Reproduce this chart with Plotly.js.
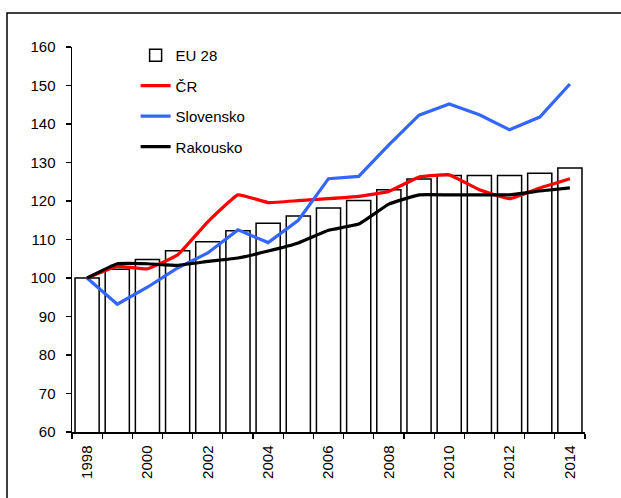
<!DOCTYPE html>
<html>
<head>
<meta charset="utf-8">
<script src="https://cdn.plot.ly/plotly-3.0.1.min.js"></script>
<style>html,body{margin:0;padding:0;background:#fff;}#chart{width:621px;height:498px;}</style>
</head>
<body>
<div id="chart"></div>
<script>
const years = [1998,1999,2000,2001,2002,2003,2004,2005,2006,2007,2008,2009,2010,2011,2012,2013,2014];
const yearLabels = ['1998','2000','2002','2004','2006','2008','2010','2012','2014'];
const labelYears = [1998,2000,2002,2004,2006,2008,2010,2012,2014];
const eu28 = [100,102.3,104.8,107.1,109.4,112.3,114.2,116.1,118.2,120.1,122.9,125.7,126.6,126.6,126.6,127.2,128.6];
const cr = [100,103.0,102.4,106.0,114.6,121.6,119.6,120.1,120.6,121.2,122.5,126.2,126.8,122.9,120.6,123.4,125.8];
const slovensko = [100,93.2,97.6,102.6,106.5,112.5,109.2,115.0,125.8,126.4,134.6,142.3,145.2,142.4,138.5,141.8,150.4];
const rakousko = [100,103.7,103.7,103.3,104.3,105.2,107.0,109.1,112.4,114.0,119.2,121.6,121.6,121.6,121.6,122.6,123.4];

const font = {family: 'Liberation Sans, Arial, sans-serif', color: '#000'};

const traces = [
  {type:'bar', x: years, y: eu28, name:'EU 28', legendgroup:'a',
   marker:{color:'#fff', line:{color:'#000', width:1.5}}},
  {type:'scatter', mode:'lines', x: years, y: cr, name:'ČR', legendgroup:'b',
   line:{color:'#ff0000', width:3.2, shape:'spline', smoothing:0.3}},
  {type:'scatter', mode:'lines', x: years, y: slovensko, name:'Slovensko', legendgroup:'c',
   line:{color:'#3366ff', width:3.2}},
  {type:'scatter', mode:'lines', x: years, y: rakousko, name:'Rakousko', legendgroup:'d',
   line:{color:'#000', width:3.2, shape:'spline', smoothing:0.3}}
];

const layout = {
  width:621, height:498,
  margin:{l:72, r:36, t:47, b:66},
  paper_bgcolor:'#fff', plot_bgcolor:'#fff',
  font: Object.assign({size:15}, font),
  bargap:0.2,
  showlegend:true,
  legend:{x:0.124, y:1.021, xanchor:'left', yanchor:'top', bgcolor:'rgba(0,0,0,0)',
    font:Object.assign({size:15}, font), tracegroupgap:8, traceorder:'grouped'},
  xaxis:{type:'linear', range:[1997.5,2014.5], tickmode:'array', tickvals:labelYears, ticktext:yearLabels,
    tickangle:-90, ticks:'outside', ticklen:0, ticklabelstandoff:6, showgrid:false, zeroline:false,
    showline:true, linecolor:'#000', linewidth:1.5, tickfont:Object.assign({size:15}, font),
    minor:{tickmode:'linear', tick0:1997.5, dtick:1, ticks:'outside', ticklen:5, tickcolor:'#000', tickwidth:1.2, showgrid:false}},
  yaxis:{range:[60,160], dtick:10, tick0:60, ticks:'outside', ticklen:5, tickcolor:'#000', tickwidth:1.2,
    ticklabelstandoff:7,
    showgrid:false, zeroline:false, showline:true, linecolor:'#000', linewidth:1.5,
    tickfont:Object.assign({size:15}, font)},
  shapes:[
    {type:'rect', xref:'paper', yref:'paper', x0:-0.1267, x1:1.2, y0:-0.3, y1:1.0883,
     line:{color:'#000', width:1.5}, fillcolor:'rgba(0,0,0,0)', layer:'below'}
  ]
};

Plotly.newPlot('chart', traces, layout, {displayModeBar:false, staticPlot:true});
</script>
</body>
</html>
